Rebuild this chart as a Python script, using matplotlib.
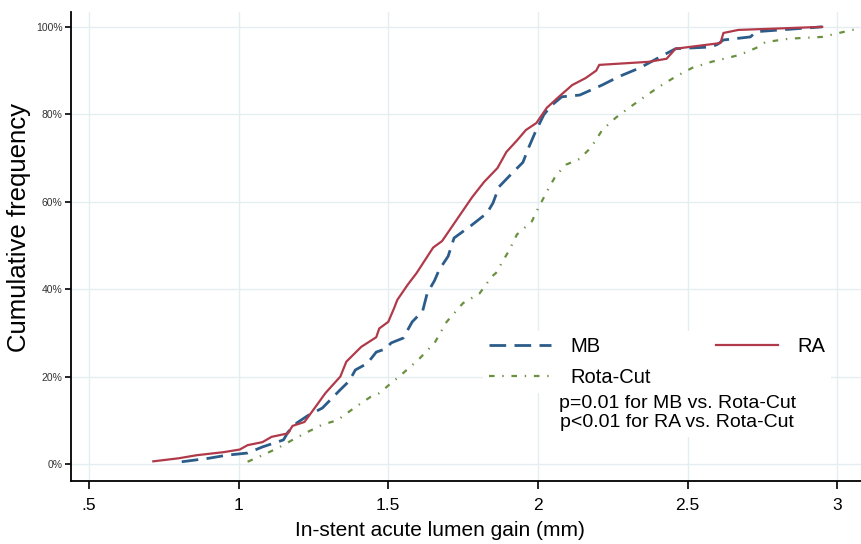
import matplotlib
matplotlib.use("Agg")
import matplotlib.pyplot as plt
from matplotlib.lines import Line2D

plt.rcParams['font.family'] = ['Liberation Sans', 'DejaVu Sans']

# ---- data ----
ra_x = [0.715, 0.80, 0.86, 0.95, 1.004, 1.03, 1.08, 1.11, 1.165, 1.18, 1.22, 1.25, 1.29, 1.34, 1.36,
        1.41, 1.46, 1.47, 1.50, 1.52, 1.53, 1.565, 1.595, 1.65, 1.68, 1.73, 1.78, 1.82, 1.865,
        1.895, 1.93, 1.96, 1.995, 2.03, 2.07, 2.115, 2.16, 2.195, 2.205, 2.37, 2.43, 2.46,
        2.61, 2.62, 2.67, 2.95]
ra_y = [0.6, 1.3, 2.0, 2.7, 3.3, 4.3, 5.0, 6.2, 7.0, 8.7, 9.6, 12.4, 16.2, 20.0, 23.4,
        26.8, 29.0, 31.0, 32.5, 35.7, 37.5, 41.0, 43.7, 49.5, 51.0, 56.0, 61.0, 64.5, 67.7,
        71.4, 74.0, 76.4, 78.0, 81.5, 84.0, 86.7, 88.3, 90.0, 91.3, 92.0, 92.7, 95.0,
        96.3, 98.6, 99.3, 100.0]

mb_x = [0.81, 0.90, 0.96, 1.03, 1.08, 1.15, 1.165, 1.195, 1.23, 1.28, 1.34, 1.37, 1.39, 1.43,
        1.46, 1.49, 1.51, 1.55, 1.58, 1.615, 1.63, 1.655, 1.67, 1.70, 1.72, 1.78, 1.83, 1.85,
        1.87, 1.915, 1.95, 1.97, 1.99, 2.02, 2.045, 2.08, 2.14, 2.215, 2.27, 2.34, 2.37, 2.41,
        2.46, 2.58, 2.60, 2.62, 2.71, 2.73, 2.81, 2.95]
mb_y = [0.5, 1.3, 2.0, 2.5, 3.9, 5.5, 7.3, 9.4, 11.0, 12.8, 17.0, 19.0, 21.5, 23.0,
        25.6, 26.3, 27.7, 28.8, 32.5, 35.0, 39.0, 42.0, 44.4, 47.5, 51.7, 54.7, 57.4, 59.7,
        63.4, 66.6, 69.0, 72.5, 75.7, 79.9, 82.0, 84.0, 84.4, 86.7, 88.6, 90.6, 91.7, 93.2,
        95.0, 95.4, 96.0, 97.0, 97.7, 98.9, 99.3, 100.0]

rc_x = [1.03, 1.08, 1.13, 1.18, 1.23, 1.28, 1.33, 1.39, 1.44, 1.47, 1.51, 1.54, 1.60, 1.655,
        1.695, 1.75, 1.805, 1.845, 1.86, 1.905, 1.93, 1.98, 1.995, 2.03, 2.06, 2.095, 2.14,
        2.17, 2.19, 2.215, 2.26, 2.295, 2.35, 2.405, 2.46, 2.515, 2.58, 2.675, 2.73, 2.76,
        2.84, 2.95, 3.05, 3.09]
rc_y = [0.5, 2.0, 3.6, 5.5, 7.3, 9.0, 10.0, 13.0, 15.3, 16.2, 18.5, 20.2, 23.8, 27.7,
        32.5, 36.8, 39.0, 42.8, 43.7, 49.0, 52.5, 55.5, 57.7, 62.3, 66.0, 68.5, 69.8,
        71.9, 73.7, 76.4, 79.2, 81.0, 83.7, 86.3, 88.6, 90.6, 92.0, 93.6, 95.2, 96.5,
        97.3, 97.7, 99.3, 99.6]

x_ticks = [0.5, 1.0, 1.5, 2.0, 2.5, 3.0]
x_tick_labels = ['.5', '1', '1.5', '2', '2.5', '3']
y_ticks = [0, 20, 40, 60, 80, 100]
y_tick_labels = ['0%', '20%', '40%', '60%', '80%', '100%']

c_mb = '#2b5c8a'
c_ra = '#b03a4a'
c_rc = '#6a9040'

fig = plt.figure(figsize=(8.62, 5.44), dpi=100)
ax = fig.add_axes([71/862, 1-481/544, 1-71/862, (481-12)/544])

ax.set_xlim(0.44, 3.083)
ax.set_ylim(-3.9, 103.4)

ax.grid(True, color='#e4eef1', lw=1.0, zorder=0)
ax.set_axisbelow(True)

ax.plot(mb_x, mb_y, color=c_mb, lw=2.0, dashes=(6, 3), zorder=3)
ax.plot(ra_x, ra_y, color=c_ra, lw=1.6, zorder=4)
ax.plot(rc_x, rc_y, color=c_rc, lw=1.6, dashes=(2.5, 3.5, 0.6, 3.5), zorder=2)

ax.set_xticks(x_ticks)
ax.set_xticklabels(x_tick_labels, fontsize=12.5)
ax.set_yticks(y_ticks)
ax.set_yticklabels(y_tick_labels, fontsize=7.5, color='#333333')
ax.tick_params(axis='x', length=6, width=1.2, pad=6)
ax.tick_params(axis='y', length=4, width=1.2, pad=2)

for s in ['top', 'right']:
    ax.spines[s].set_visible(False)
for s in ['left', 'bottom']:
    ax.spines[s].set_linewidth(1.3)
    ax.spines[s].set_color('black')

ax.set_xlabel('In-stent acute lumen gain (mm)', fontsize=15, labelpad=4)
ax.xaxis.set_label_coords((440-71)/(862-71), -0.085)
ax.set_ylabel('Cumulative frequency', fontsize=18.5, labelpad=4)
ax.yaxis.set_label_coords(-0.051, (481-228)/(481-12))

h_mb = Line2D([], [], color=c_mb, lw=2.0, dashes=(6, 3))
h_ra = Line2D([], [], color=c_ra, lw=1.6)
h_rc = Line2D([], [], color=c_rc, lw=1.6, dashes=(2.5, 3.5, 0.6, 3.5))
leg = ax.legend([h_mb, h_rc, h_ra], ['MB', 'Rota-Cut', 'RA'], ncol=2,
                loc='upper left', bbox_to_anchor=(483/862, 1-331/544),
                bbox_transform=fig.transFigure, frameon=True, fontsize=14.5,
                handlelength=3.1, handletextpad=0.95, columnspacing=3.2,
                labelspacing=0.58, borderpad=0.3, borderaxespad=0)
leg.get_frame().set_facecolor('white')
leg.get_frame().set_edgecolor('none')
leg.get_frame().set_alpha(1)
leg.get_frame().set_boxstyle('square', pad=0)

ax.text(2.466, 11.7, 'p=0.01 for MB vs. Rota-Cut\np<0.01 for RA vs. Rota-Cut',
        ha='center', va='center', fontsize=14, multialignment='center',
        linespacing=1.2, zorder=5,
        bbox=dict(facecolor='white', edgecolor='none', pad=4))

fig.savefig('out.png', dpi=100)
